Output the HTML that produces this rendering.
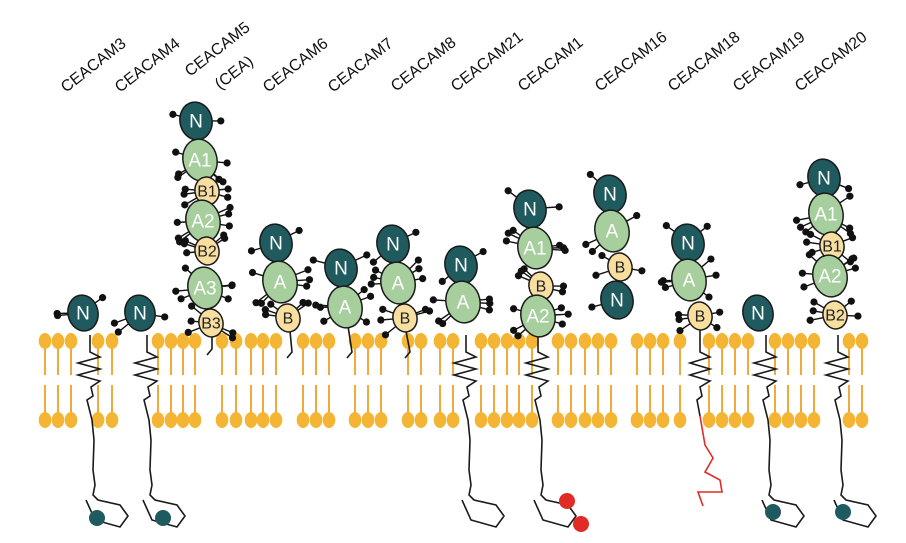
<!DOCTYPE html>
<html><head><meta charset="utf-8">
<style>
html,body{margin:0;padding:0;background:#fff;}
svg{display:block;}
text.l{font-family:"Liberation Sans",sans-serif;font-size:16px;fill:#111;}
text.d{font-family:"Liberation Sans",sans-serif;font-size:19px;text-anchor:middle;dominant-baseline:central;}
</style></head>
<body>
<svg id="s" width="906" height="543" viewBox="0 0 906 543" xmlns="http://www.w3.org/2000/svg">
<g id="lip"></g>
<g id="tails" fill="none" stroke="#1a1a1a" stroke-width="1.6"></g>
<g id="dots"></g>
<g id="dom"></g>
<g id="labs">
<text class="l" transform="translate(66,93) rotate(-38)">CEACAM3</text>
<text class="l" transform="translate(120,93) rotate(-38)">CEACAM4</text>
<text class="l" transform="translate(190,77) rotate(-38)">CEACAM5</text>
<text class="l" transform="translate(220,90) rotate(-38)">(CEA)</text>
<text class="l" transform="translate(268,93) rotate(-38)">CEACAM6</text>
<text class="l" transform="translate(333,93) rotate(-38)">CEACAM7</text>
<text class="l" transform="translate(396,92) rotate(-38)">CEACAM8</text>
<text class="l" transform="translate(456,92) rotate(-38)">CEACAM21</text>
<text class="l" transform="translate(523,92) rotate(-38)">CEACAM1</text>
<text class="l" transform="translate(600,92) rotate(-38)">CEACAM16</text>
<text class="l" transform="translate(673,92) rotate(-38)">CEACAM18</text>
<text class="l" transform="translate(738,92) rotate(-38)">CEACAM19</text>
<text class="l" transform="translate(800,92) rotate(-38)">CEACAM20</text>
</g>
</svg>
<script>
var NS="http://www.w3.org/2000/svg";
function el(p,t,a){var e=document.createElementNS(NS,t);for(var k in a)e.setAttribute(k,a[k]);p.appendChild(e);return e;}
var lip=document.getElementById('lip');
var xs=[45,58,71,98,112,158,171,183,195,222,236,251,263,276,303,316,329,355,368,381,408,421,440,453,481,494,507,519,532,558,571,585,598,611,637,650,663,680,709,722,735,748,775,788,801,814,849,862];
xs.forEach(function(x){
 el(lip,'line',{x1:x,y1:341,x2:x,y2:375,stroke:'#f2a93b','stroke-width':2});
 el(lip,'line',{x1:x,y1:385,x2:x,y2:420,stroke:'#f2a93b','stroke-width':2});
 el(lip,'ellipse',{cx:x,cy:341,rx:6.3,ry:8,fill:'#f4b534'});
 el(lip,'ellipse',{cx:x,cy:420,rx:6.3,ry:8,fill:'#f4b534'});
});
var tails=document.getElementById('tails');
function tail(x){
 var d='M'+x+',335 L'+x+',352 L'+(x+10)+',357 L'+(x-12)+',363 L'+(x+10)+',369 L'+(x-12)+',375 L'+(x+10)+',381 L'+(x+1)+',387 L'+(x+3)+',396 L'+(x-3)+',400 L'+(x+2)+',420 L'+(x+4)+',440 L'+(x+3)+',470 L'+(x+5)+',485 L'+(x+3)+',495 L'+(x+8)+',500 L'+(x+30)+',505 L'+(x+38)+',516 L'+(x+30)+',527 L'+(x+5)+',520 L'+(x-4)+',500';
 el(tails,'path',{d:d});
}
var prot=[
 {x:90,dom:[['N',83,313,15,18]],c:[[97,518,'#1f5a5e']]},
 {x:147,dom:[['N',140,313,15,18]],c:[[163,518,'#1f5a5e']]},
 {x:212,dom:[['N',196,121,16,19],['A1',200,160,17,21],['B1',207,191,12,14],['A2',203,221,17,21],['B2',207,251,12,14],['A3',205,288,17,21],['B3',211,323,12,14]],st:[212,336,212,355]},
 {x:290,dom:[['N',276,243,16,19],['A',280,282,17,21],['B',288,318,12,14]],st:[290,331,292,358]},
 {x:348,dom:[['N',341,268,16,19],['A',345,307,17,21]],st:[348,326,352,358]},
 {x:406,dom:[['N',393,244,16,19],['A',398,283,17,21],['B',405,318,12,14]],st:[406,331,410,358]},
 {x:466,dom:[['N',461,265,16,19],['A',463,302,17,21]],tl:1},
 {x:538,dom:[['N',530,209,16,19],['A1',535,248,17,21],['B',541,286,12,14],['A2',538,316,17,21]],tl:1,c:[[567,501,'#e02b26'],[581,524,'#e02b26']]},
 {x:0,dom:[['N',610,194,16,19],['A',612,231,17,21],['B',620,267,12,14],['N',617,300,16,19]]},
 {x:700,dom:[['N',688,243,16,19],['A',689,280,17,21],['B',700,316,12,14]],red:1},
 {x:766,dom:[['N',758,313,15,18]],c:[[773,512,'#1f5a5e']]},
 {x:838,dom:[['N',824,178,16,19],['A1',826,214,17,21],['B1',832,246,12,14],['A2',830,276,17,21],['B2',835,315,12,14]],c:[[843,512,'#1f5a5e']]}
];
var dots=document.getElementById('dots'),dom=document.getElementById('dom');
var seed=7;function rnd(){seed=(seed*9301+49297)%233280;return seed/233280;}
prot.forEach(function(p,i){
 if(p.st){el(tails,'path',{d:'M'+p.st[0]+','+p.st[1]+' L'+p.st[2]+','+(p.st[3]-6)+' L'+(p.st[2]-5)+','+p.st[3]});}
 else if(p.red){
  el(tails,'path',{d:'M700,329 L700,352 L710,357 L690,363 L710,369 L690,375 L710,381 L700,387 L702,396 L697,400 L700,416'});
  el(tails,'path',{d:'M700,416 L705,445 L713,458 L705,472 L720,480 L722,492 L698,492 L703,506',stroke:'#e02b26'});
 }
 else if(p.x){tail(p.x);}
 if(p.c)p.c.forEach(function(c){el(dots,'circle',{cx:c[0],cy:c[1],r:8,fill:c[2]});});
 p.dom.forEach(function(d,j){
  var t=d[0][0];
  var n=(t=='B')?5:(t=='A'?6:(p.dom.length==1?3:2));
  if(i==8){n=(j==0||j==3)?1:3;}
  if(i==10)n=0;
  for(var k=0;k<n;k++){
   var side=(k%2)?1:-1;var ang=(side>0?0:Math.PI)+(rnd()-0.5)*1.6;
   var x0=d[1]+Math.cos(ang)*d[3]*0.9,y0=d[2]+Math.sin(ang)*d[4]*0.9;
   var L=9+rnd()*6;var x1=x0+Math.cos(ang)*L,y1=y0+Math.sin(ang)*L;
   el(dots,'line',{x1:x0,y1:y0,x2:x1,y2:y1,stroke:'#111','stroke-width':1.4});
   el(dots,'circle',{cx:x1,cy:y1,r:3.6,fill:'#111'});
  }
 });
 p.dom.forEach(function(d){
  var t=d[0][0],f=t=='N'?'#1f5a5e':(t=='A'?'#a6cf9d':'#f8dfa0');
  el(dom,'ellipse',{cx:d[1],cy:d[2],rx:d[3],ry:d[4],fill:f,stroke:'#1a1a1a','stroke-width':1.5,transform:'rotate(-12 '+d[1]+' '+d[2]+')'});
  var tx=el(dom,'text',{class:'d',x:d[1],y:d[2]+1,fill:t=='B'?'#222':'#fff'});
  if(t=='B'){tx.setAttribute('style','font-size:16px');}
  tx.textContent=d[0];
 });
});
</script>
</body></html>
